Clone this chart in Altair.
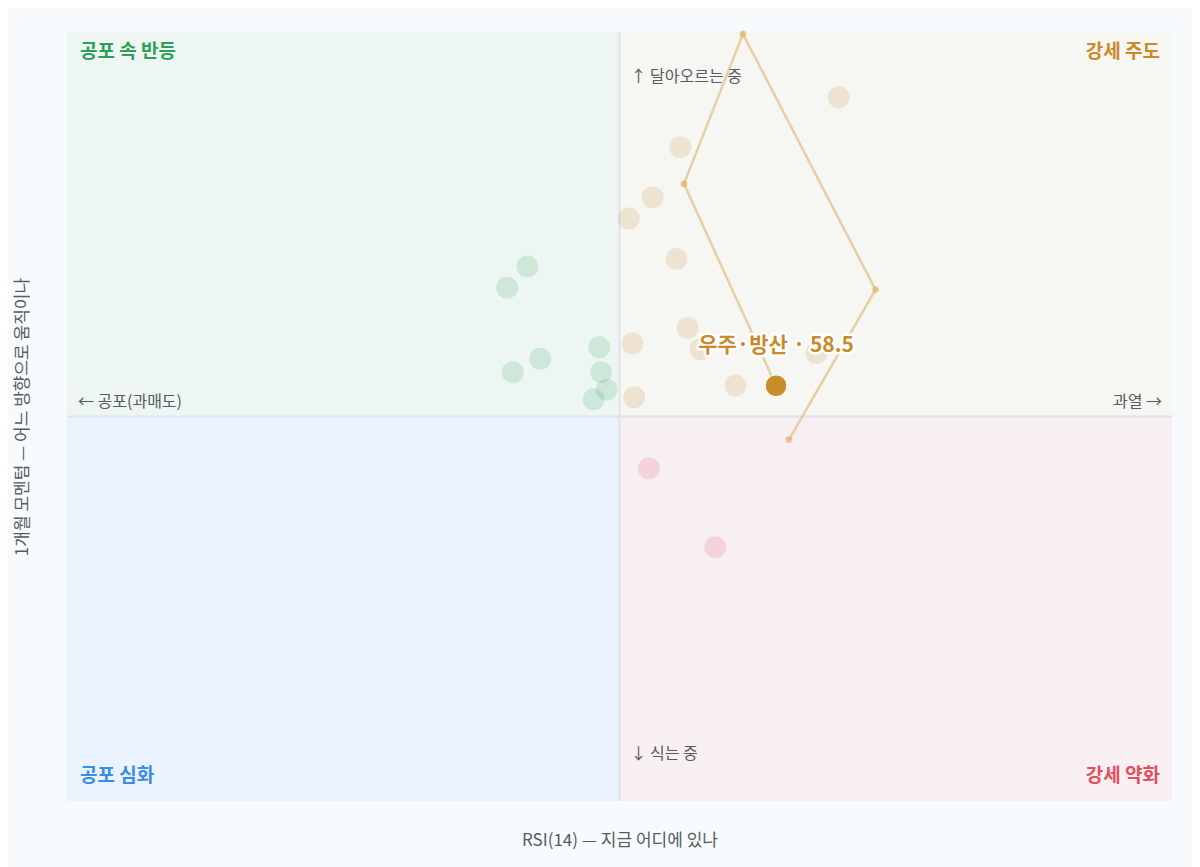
import altair as alt
import pandas as pd

FONT = "Noto Sans CJK KR"

# ---------------- data ----------------
# highlighted sector: 5-step trail, oldest -> latest
hl_name = "우주·방산"
trail_rsi = [59.2, 63.9, 56.7, 53.5, 58.5]
trail_mom = [-1.2, 6.6, 19.9, 12.1, 1.6]

# other sectors (latest position only, faded)
other_rsi = [45.0, 43.9, 45.7, 44.2, 48.9, 49.0, 49.3, 48.6,
             61.9, 53.3, 51.8, 50.5, 53.1, 53.7, 50.7, 54.4, 60.7, 56.3, 50.8,
             51.6, 55.2]
other_mom = [7.8, 6.7, 3.0, 2.3, 3.6, 2.3, 1.4, 0.9,
             16.6, 14.0, 11.4, 10.3, 8.2, 4.6, 3.8, 3.5, 3.3, 1.6, 1.0,
             -2.7, -6.8]

# quadrants
quad_names = ["공포 속 반등", "강세 주도", "공포 심화", "강세 약화"]
quad_x1 = [20, 50, 20, 50]
quad_x2 = [50, 80, 50, 80]
quad_y1 = [0, 0, -20, -20]
quad_y2 = [20, 20, 0, 0]
quad_fill = ["#edf6f3", "#f6f6f2", "#eaf3fd", "#f8eff2"]
quad_ink = ["#2f9e5a", "#c98a2b", "#3a8de0", "#e0505a"]

# direction hints
hint_text = ["↑ 달아오르는 중", "↓ 식는 중", "← 공포(과매도)", "과열 →"]

X_DOMAIN = [20, 80]
Y_DOMAIN = [-20, 20]

# ---------------- frames ----------------
quad_df = pd.DataFrame({"name": quad_names, "x1": quad_x1, "x2": quad_x2,
                        "y1": quad_y1, "y2": quad_y2,
                        "fill": quad_fill, "ink": quad_ink})

def quadrant_of(r, m):
    if r < 50:
        return quad_names[0] if m >= 0 else quad_names[2]
    return quad_names[1] if m >= 0 else quad_names[3]

others = pd.DataFrame({"rsi": other_rsi, "mom": other_mom})
others["quad"] = [quadrant_of(r, m) for r, m in zip(other_rsi, other_mom)]

trail = pd.DataFrame({"rsi": trail_rsi, "mom": trail_mom,
                      "step": list(range(len(trail_rsi)))})
latest = trail.tail(1).copy()
latest["label"] = [f"{hl_name} · {trail_rsi[-1]:.1f}"]

xs = alt.Scale(domain=X_DOMAIN, nice=False, zero=False)
ys = alt.Scale(domain=Y_DOMAIN, nice=False, zero=False)
xaxis = alt.Axis(title="RSI(14) — 지금 어디에 있나", labels=False, ticks=False,
                 domain=False, grid=False, titlePadding=31, titleFontSize=17,
                 titleFontWeight="normal", titleColor="#555b61", titleFont=FONT)
yaxis = alt.Axis(title="1개월 모멘텀 — 어느 방향으로 움직이나", labels=False,
                 ticks=False, domain=False, grid=False, titlePadding=36,
                 titleFontSize=17, titleFontWeight="normal",
                 titleColor="#555b61", titleFont=FONT)

quad_color = alt.Scale(domain=quad_names, range=quad_ink)

# quadrant backgrounds
rects = alt.Chart(quad_df).mark_rect().encode(
    x=alt.X("x1:Q", scale=xs, axis=xaxis), x2="x2:Q",
    y=alt.Y("y1:Q", scale=ys, axis=yaxis), y2="y2:Q",
    fill=alt.Fill("fill:N", scale=None),
)

# centre cross
cross_v = alt.Chart(pd.DataFrame({"rsi": [50]})).mark_rule(
    color="#dde4e8", strokeWidth=2).encode(x=alt.X("rsi:Q", scale=xs, axis=xaxis))
cross_h = alt.Chart(pd.DataFrame({"mom": [0]})).mark_rule(
    color="#dde4e8", strokeWidth=2).encode(y=alt.Y("mom:Q", scale=ys, axis=yaxis))

# quadrant labels (anchored at corners)
ql = pd.DataFrame({
    "name": quad_names,
    "rsi": [20, 80, 20, 80],
    "mom": [20, 20, -20, -20],
})
def corner_label(i, align, dx, dy):
    return alt.Chart(ql.iloc[[i]]).mark_text(
        font=FONT, fontSize=19, fontWeight="bold", align=align,
        baseline="middle", dx=dx, dy=dy, color=quad_ink[i]
    ).encode(x=alt.X("rsi:Q", scale=xs, axis=xaxis),
             y=alt.Y("mom:Q", scale=ys, axis=yaxis), text="name:N")

qlabels = [corner_label(0, "left", 13, 20), corner_label(1, "right", -12, 20),
           corner_label(2, "left", 13, -25), corner_label(3, "right", -12, -25)]

# direction hints
hd = pd.DataFrame({"text": hint_text, "rsi": [50, 50, 20, 80],
                   "mom": [20, -20, 0, 0]})
def hint(i, align, dx, dy):
    return alt.Chart(hd.iloc[[i]]).mark_text(
        font=FONT, fontSize=16, color="#555b61", align=align,
        baseline="middle", dx=dx, dy=dy
    ).encode(x=alt.X("rsi:Q", scale=xs, axis=xaxis),
             y=alt.Y("mom:Q", scale=ys, axis=yaxis), text="text:N")

hints = [hint(0, "left", 11, 45), hint(1, "left", 11, -47),
         hint(2, "left", 11, -15), hint(3, "right", -10, -15)]

# faded other sectors
faded = alt.Chart(others).mark_circle(size=480, opacity=0.17).encode(
    x=alt.X("rsi:Q", scale=xs, axis=xaxis),
    y=alt.Y("mom:Q", scale=ys, axis=yaxis),
    color=alt.Color("quad:N", scale=quad_color, legend=None),
)

# highlighted trail
trail_line = alt.Chart(trail).mark_line(
    color="#dcaa55", strokeWidth=2.5, opacity=0.5).encode(
    x=alt.X("rsi:Q", scale=xs, axis=xaxis),
    y=alt.Y("mom:Q", scale=ys, axis=yaxis),
    order="step:Q",
)
trail_pts = alt.Chart(trail.iloc[:-1]).mark_circle(
    size=45, color="#dcaa55", opacity=0.6).encode(
    x=alt.X("rsi:Q", scale=xs, axis=xaxis),
    y=alt.Y("mom:Q", scale=ys, axis=yaxis),
)
head = alt.Chart(latest).mark_circle(
    size=470, color="#c98d2c", opacity=1, stroke="white", strokeWidth=1).encode(
    x=alt.X("rsi:Q", scale=xs, axis=xaxis),
    y=alt.Y("mom:Q", scale=ys, axis=yaxis),
)
halo = alt.Chart(latest).mark_text(
    font=FONT, fontSize=21, fontWeight="bold", dy=-40, align="center",
    baseline="middle", stroke="white", strokeWidth=5, strokeJoin="round",
    color="white").encode(
    x=alt.X("rsi:Q", scale=xs, axis=xaxis),
    y=alt.Y("mom:Q", scale=ys, axis=yaxis), text="label:N")
label = alt.Chart(latest).mark_text(
    font=FONT, fontSize=21, fontWeight="bold", dy=-40, align="center",
    baseline="middle", color="#c98a2b").encode(
    x=alt.X("rsi:Q", scale=xs, axis=xaxis),
    y=alt.Y("mom:Q", scale=ys, axis=yaxis), text="label:N")

chart = alt.layer(
    rects, cross_v, cross_h, *qlabels, *hints, faded,
    trail_line, trail_pts, head, halo, label
).properties(
    width=1105, height=769,
    autosize=alt.AutoSizeParams(type="none"),
    padding={"left": 59, "top": 24, "right": 20, "bottom": 70},
    background="#f8fbfe",
).configure_view(stroke=None)

chart.save("out.html", embed_options={"renderer": "svg", "actions": False})
